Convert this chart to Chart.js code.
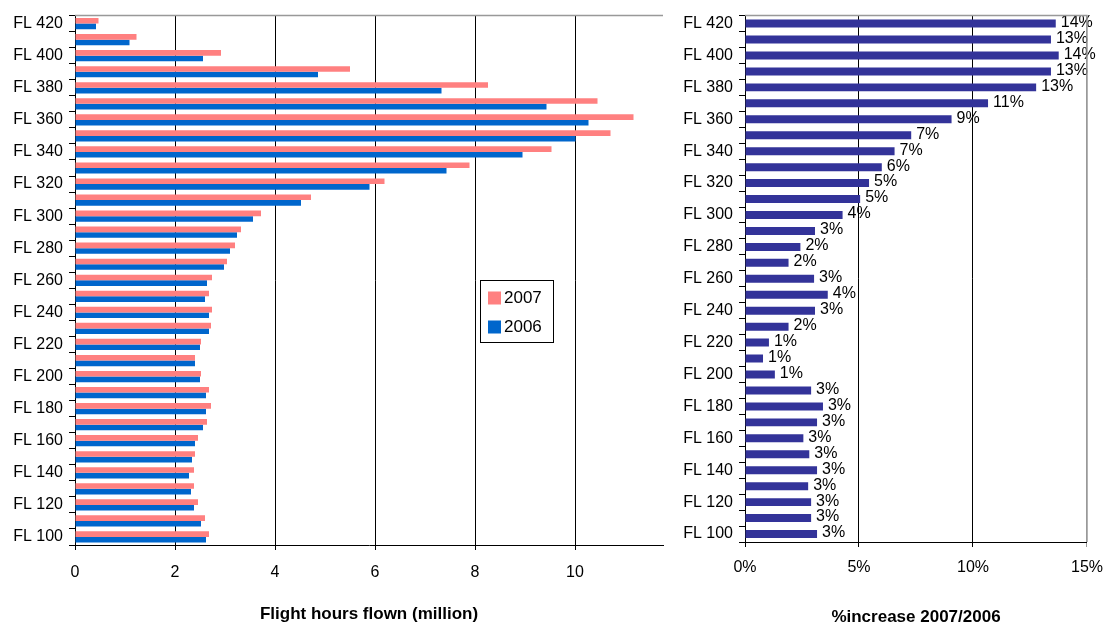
<!DOCTYPE html>
<html>
<head>
<meta charset="utf-8">
<script src="https://cdn.jsdelivr.net/npm/chart.js@4"></script>
<style>
  html, body { margin: 0; padding: 0; background: #fff; }
  #wrap { position: relative; width: 1114px; height: 628px; overflow: hidden; }
  #c1 { position: absolute; left: 0; top: 0; }
  #c2 { position: absolute; left: 670px; top: 0; }
</style>
</head>
<body>
<div id="wrap">
  <canvas id="c1" width="680" height="628" style="width:680px;height:628px"></canvas>
  <canvas id="c2" width="444" height="628" style="width:444px;height:628px"></canvas>
</div>
<script>
const categories = ['FL 420','FL 410','FL 400','FL 390','FL 380','FL 370','FL 360','FL 350','FL 340','FL 330','FL 320',
  'FL 310','FL 300','FL 290','FL 280','FL 270','FL 260','FL 250','FL 240','FL 230','FL 220','FL 210',
  'FL 200','FL 190','FL 180','FL 170','FL 160','FL 150','FL 140','FL 130','FL 120','FL 110','FL 100'];
const hours2007 = [0.47,1.23,2.92,5.50,8.26,10.45,11.17,10.71,9.53,7.89,6.19,
  4.72,3.72,3.32,3.20,3.04,2.74,2.68,2.74,2.72,2.52,2.40,
  2.52,2.68,2.72,2.64,2.46,2.40,2.38,2.38,2.46,2.60,2.68];
const hours2006 = [0.42,1.09,2.56,4.86,7.33,9.43,10.27,10.01,8.95,7.43,5.89,
  4.52,3.56,3.24,3.10,2.98,2.64,2.60,2.68,2.68,2.50,2.40,
  2.50,2.62,2.62,2.56,2.40,2.34,2.28,2.32,2.38,2.52,2.62];
const pctIncrease = [13.63,13.42,13.76,13.42,12.77,10.66,9.06,7.29,6.56,6.00,5.44,
  5.05,4.28,3.07,2.43,1.91,3.03,3.63,3.07,1.91,1.05,0.79,
  1.31,2.90,3.42,3.16,2.56,2.82,3.16,2.77,2.90,2.90,3.16];
const seriesNames = ['2007','2006'];
const hoursTicks = [0,2,4,6,8,10];
const pctTicks = [0,5,10,15];

const FONT = '"Liberation Sans", Arial, sans-serif';
Chart.defaults.font.family = FONT;
Chart.defaults.color = '#000';

const frameTop = {
  id: 'frameTop',
  afterDraw(chart, args, opts) {
    const a = chart.chartArea, c = chart.ctx;
    c.save();
    c.strokeStyle = '#999';
    c.lineWidth = 1.5;
    c.beginPath();
    c.moveTo(a.left, a.top);
    c.lineTo(a.right, a.top);
    if (opts.right) c.lineTo(a.right, a.bottom);
    c.stroke();
    c.restore();
  }
};

const boxLegend = {
  id: 'boxLegend',
  afterDraw(chart) {
    const c = chart.ctx;
    const x0 = 480.5, y0 = 280.5, w = 73, h = 62;
    c.save();
    c.fillStyle = '#fff';
    c.fillRect(x0, y0, w, h);
    c.strokeStyle = '#000';
    c.lineWidth = 1;
    c.strokeRect(x0, y0, w, h);
    c.font = '17px ' + FONT;
    c.textBaseline = 'middle';
    c.textAlign = 'left';
    chart.data.datasets.forEach((ds, i) => {
      const cy = 298 + i * 29;
      c.fillStyle = ds.backgroundColor;
      c.fillRect(488, cy - 6.5, 13, 13);
      c.fillStyle = '#000';
      c.fillText(ds.label, 504, cy);
    });
    c.restore();
  }
};

const valueLabels = {
  id: 'valueLabels',
  afterDatasetsDraw(chart) {
    const c = chart.ctx;
    const meta = chart.getDatasetMeta(0);
    const vals = chart.data.datasets[0].data;
    c.save();
    c.font = '16px ' + FONT;
    c.fillStyle = '#000';
    c.textAlign = 'left';
    c.textBaseline = 'middle';
    meta.data.forEach((bar, i) => {
      c.fillText(Math.round(vals[i]) + '%', bar.x + 5, bar.y - 1);
    });
    c.restore();
  }
};

function yScale() {
  return {
    type: 'category',
    afterFit(s) { s.width = 75; },
    grid: { offset: true, drawOnChartArea: false, drawTicks: true, tickLength: 6, color: '#000', lineWidth: 1 },
    border: { display: true, color: '#000', width: 1 },
    ticks: {
      autoSkip: false,
      padding: 6,
      font: { size: 16 },
      color: '#000',
      callback(v, i) { return i % 2 === 0 ? this.getLabelForValue(v) : ''; }
    }
  };
}

new Chart(document.getElementById('c1'), {
  type: 'bar',
  data: {
    labels: categories,
    datasets: [
      { label: seriesNames[0], data: hours2007, backgroundColor: '#FF8080', borderWidth: 0 },
      { label: seriesNames[1], data: hours2006, backgroundColor: '#0066CC', borderWidth: 0 }
    ]
  },
  options: {
    indexAxis: 'y',
    responsive: false,
    animation: false,
    events: [],
    layout: { padding: { top: 9, right: 17, bottom: 0, left: 0 } },
    categoryPercentage: 0.7,
    barPercentage: 1.0,
    plugins: { legend: { display: false }, tooltip: { enabled: false }, frameTop: { right: false } },
    scales: {
      x: {
        type: 'linear',
        min: 0,
        max: 11.76,
        afterFit(s) { s.height = 83; },
        afterBuildTicks(s) { s.ticks = hoursTicks.map(v => ({ value: v })); },
        grid: { color: '#000', lineWidth: 1, drawTicks: true, tickLength: 5 },
        border: { display: true, color: '#000', width: 1 },
        ticks: { font: { size: 16 }, color: '#000', padding: 13 },
        title: { display: true, text: 'Flight hours flown (million)', font: { size: 17, weight: 'bold' }, color: '#000', padding: { top: 0, bottom: 3 } }
      },
      y: yScale()
    }
  },
  plugins: [frameTop, boxLegend]
});

new Chart(document.getElementById('c2'), {
  type: 'bar',
  data: {
    labels: categories,
    datasets: [
      { label: '% increase', data: pctIncrease, backgroundColor: '#333399', borderWidth: 0 }
    ]
  },
  options: {
    indexAxis: 'y',
    responsive: false,
    animation: false,
    events: [],
    layout: { padding: { top: 9, right: 22, bottom: 0, left: 0 } },
    categoryPercentage: 1.0,
    barPercentage: 0.5,
    plugins: { legend: { display: false }, tooltip: { enabled: false }, frameTop: { right: true } },
    scales: {
      x: {
        type: 'linear',
        min: 0,
        max: 15,
        afterFit(s) { s.height = 86; },
        afterBuildTicks(s) { s.ticks = pctTicks.map(v => ({ value: v })); },
        grid: { color: ctx => (ctx.tick && ctx.tick.value === 15) ? '#999' : '#000', lineWidth: 1, drawTicks: true, tickLength: 5 },
        border: { display: true, color: '#000', width: 1 },
        ticks: { font: { size: 16 }, color: '#000', padding: 11, callback: v => v + '%' },
        title: { display: true, text: '%increase 2007/2006', font: { size: 17, weight: 'bold' }, color: '#000', padding: { top: 0, bottom: 0 } }
      },
      y: yScale()
    }
  },
  plugins: [frameTop, valueLabels]
});
</script>
</body>
</html>
